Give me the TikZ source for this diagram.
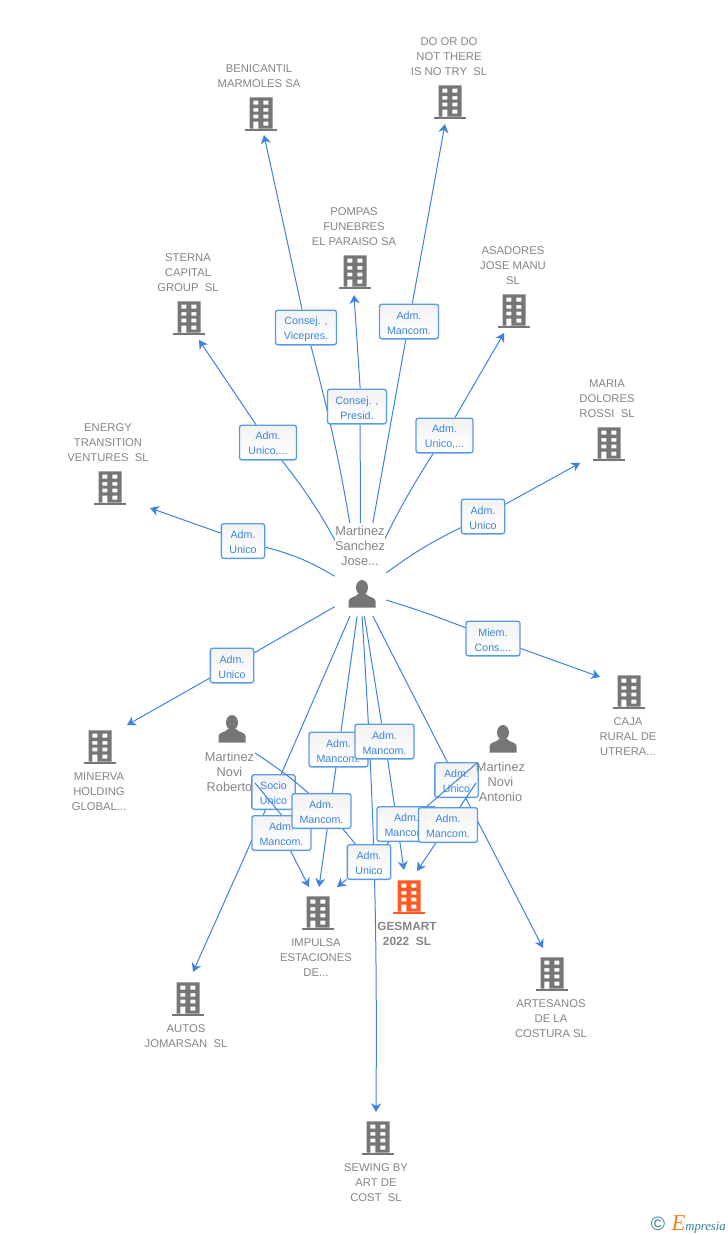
\documentclass[tikz,border=0pt]{standalone}
\usepackage{fontspec}
\setmainfont{Liberation Sans}
\newfontfamily\logofont{Liberation Serif}
\usetikzlibrary{arrows.meta}

\definecolor{iconGray}{HTML}{767676}
\definecolor{labelGray}{HTML}{858585}
\definecolor{linkBlue}{HTML}{3D82DF}
\definecolor{boxBlue}{HTML}{5A9BE6}
\definecolor{textBlue}{HTML}{3C84E0}
\definecolor{mainOrange}{HTML}{FF5A26}
\definecolor{logoTeal}{HTML}{2F7E96}
\definecolor{logoOrange}{HTML}{F58220}

\pgfdeclarelayer{baseLines}
\pgfdeclarelayer{lowBoxes}
\pgfdeclarelayer{topLines}
\pgfsetlayers{baseLines,lowBoxes,topLines,main}

\tikzset{
  link/.style={linkBlue, line width=.75pt},
  linkTip/.style={link, -{Stealth[length=6.5pt,width=7.5pt,inset=2pt]}},
  relBox/.style={draw=boxBlue, line width=1pt, rounded corners=1.8pt, top color=black!5, bottom color=white, text=textBlue,
    font=\fontsize{8}{11.25}\selectfont, align=center, inner sep=0pt, minimum height=26pt, text height=19.2pt},
  relWide/.style={relBox, minimum width=44.25pt},
  relSmall/.style={relBox, minimum width=32.5pt},
  nameLbl/.style={text=labelGray, font=\fontsize{8.45}{11.25}\selectfont, align=center, inner sep=0pt, yshift=-.75pt},
  personLbl/.style={text=labelGray, font=\fontsize{9.6}{11.25}\selectfont, align=center, inner sep=0pt, yshift=-.75pt},
  pics/building/.style={code={
    \fill[#1, even odd rule] (-11.5,-16.7) rectangle (11.5,14.5)
      (-7.7,-13.3) rectangle (-2.7,-9.3) (2.3,-13.3) rectangle (7.3,-9.3)
      (-7.7,-6) rectangle (-2.7,-2.3) (2.3,-6) rectangle (7.3,-2.3)
      (-7.7,.7) rectangle (-2.7,4.3) (2.3,.7) rectangle (7.3,4.3)
      (-7.7,7.6) rectangle (-2.7,14.5) (2.3,7.6) rectangle (7.3,11.7);
    \fill[#1] (-16,14.5) rectangle (16,16.5);
  }},
  pics/person/.style={code={
    \fill[iconGray] (0,-6.5) ellipse (6 and 7.5);
    \fill[iconGray] (-13.5,13.5) -- (-13.5,7) .. controls (-13.5,3) and (-5,3) .. (-4,0)
      -- (4,0) .. controls (5,3) and (13.5,3) .. (13.5,7) -- (13.5,13.5) -- cycle;
  }}
}

\begin{document}
\begin{tikzpicture}[x=.75pt, y=-.75pt]
\useasboundingbox (0,0) rectangle (728,1235);

% people
\node (jose) at (360.5,592) [minimum width=38.25pt, minimum height=36pt, inner sep=0pt] {};
\coordinate (robertoA) at (255,753);
\coordinate (robertoB) at (255,783);
\coordinate (antonioA) at (477,763);
\coordinate (antonioB) at (476,783);

% arrow ends
\coordinate (benicantilEnd) at (264,135);
\coordinate (dodoEnd) at (445,124);
\coordinate (pompasEnd) at (354,295);
\coordinate (asadoresEnd) at (504,333);
\coordinate (sternaEnd) at (199,340);
\coordinate (mariaEnd) at (580,463);
\coordinate (energyEnd) at (150,508);
\coordinate (cajaEnd) at (600,677);
\coordinate (minervaEnd) at (127,725);
\coordinate (autosEnd) at (193,972);
\coordinate (artesanosEnd) at (543,948);
\coordinate (sewingEnd) at (376,1112);
\coordinate (impulsaEndA) at (309,887);
\coordinate (impulsaEndB) at (319,887);
\coordinate (impulsaEndC) at (337,887);
\coordinate (gesmartEndA) at (404,870);
\coordinate (gesmartEndB) at (417,871);

% boxes under the lines of the two lower people
\begin{pgfonlayer}{lowBoxes}
\node (mancomA) at (338.5,749.5) [relWide] {Adm.\\Mancom.};
\node (mancomB) at (384.5,741.5) [relWide] {Adm.\\Mancom.};
\node (socio) at (273.5,792) [relSmall] {Socio\\Unico};
\node (unicoE) at (456.5,780) [relSmall] {Adm.\\Unico};
\end{pgfonlayer}

% other boxes
\node (vicepres) at (306,327.5) [relBox, minimum width=45.75pt] {Consej. ,\\Vicepres.};
\node (presid) at (357,406.5) [relWide] {Consej. ,\\Presid.};
\node (mancomTop) at (409,321.5) [relWide] {Adm.\\Mancom.};
\node (unicoSterna) at (268,442.5) [relBox, minimum width=42.75pt] {Adm.\\Unico,...};
\node (unicoAsadores) at (444.5,435.5) [relBox, minimum width=42.75pt] {Adm.\\Unico,...};
\node (unicoMaria) at (483,516.5) [relSmall] {Adm.\\Unico};
\node (unicoEnergy) at (243,541) [relSmall] {Adm.\\Unico};
\node (miembro) at (493,638.5) [relBox, minimum width=40.5pt] {Miem.\\Cons....};
\node (unicoMinerva) at (232,665.5) [relSmall] {Adm.\\Unico};
\node (mancomD) at (281.5,833) [relWide] {Adm.\\Mancom.};
\node (mancomC) at (321.5,811) [relWide] {Adm.\\Mancom.};
\node (mancomF) at (406.5,824) [relWide] {Adm.\\Mancom.};
\node (mancomG) at (448,825) [relWide] {Adm.\\Mancom.};
\node (unicoH) at (369,862) [relSmall] {Adm.\\Unico};

% lines from the main person
\begin{pgfonlayer}{baseLines}
\draw[link] (jose) to[bend right=3] (vicepres.285);
\draw[linkTip] (vicepres) -- (benicantilEnd);
\draw[link] (jose) -- (presid.280);
\draw[linkTip] (presid.80) -- (pompasEnd);
\draw[link] (jose) -- (mancomTop);
\draw[linkTip] (mancomTop) -- (dodoEnd);
\draw[link] (jose) to[bend left=4] (unicoAsadores);
\draw[linkTip] (unicoAsadores) -- (asadoresEnd);
\draw[link] (jose) to[bend right=6] (unicoSterna);
\draw[linkTip] (unicoSterna) -- (sternaEnd);
\draw[link] (jose) to[bend right=8] (unicoEnergy);
\draw[linkTip] (unicoEnergy) -- (energyEnd);
\draw[link] (jose) to[bend left=5] (unicoMaria);
\draw[linkTip] (unicoMaria) -- (mariaEnd);
\draw[link] (jose) to[bend left=2] (miembro);
\draw[linkTip] (miembro) -- (cajaEnd);
\draw[link] (jose) -- (unicoMinerva);
\draw[linkTip] (unicoMinerva) -- (minervaEnd);
\draw[link] (jose) -- (socio);
\draw[linkTip] (socio) -- (autosEnd);
\draw[link] (jose) -- (mancomA);
\draw[linkTip] (mancomA) -- (impulsaEndB);
\draw[link] (jose) -- (mancomB);
\draw[linkTip] (mancomB.-80) -- (gesmartEndA);
\draw[link] (jose) -- (unicoE);
\draw[linkTip] (unicoE) -- (artesanosEnd);
\draw[linkTip] (jose) to[bend left=2] (sewingEnd);
\end{pgfonlayer}

% lines from the other two people
\begin{pgfonlayer}{topLines}
\draw[link] (robertoA) to[bend left=9] (unicoH);
\draw[link] (robertoB) -- (mancomD.north);
\draw[linkTip] (mancomD) -- (impulsaEndA);
\draw[linkTip] (antonioA) -- (mancomF) -- (unicoH) -- (impulsaEndC);
\draw[linkTip] (antonioB) -- (mancomG) -- (gesmartEndB);
\end{pgfonlayer}

% person icons and names
\pic at (362,594) {person};
\pic at (232,729) {person};
\pic at (503,739) {person};
\node (joseName) at (360,545) [personLbl, fill=white, inner ysep=2.25pt] {Martinez\\Sanchez\\Jose...};
\node (robertoName) at (229.5,771) [personLbl] {Martinez\\Novi\\Roberto};
\node (antonioName) at (500.5,781) [personLbl] {Martinez\\Novi\\Antonio};

% companies
\pic at (261,114) {building=iconGray};
\pic at (450,102) {building=iconGray};
\pic at (355,272) {building=iconGray};
\pic at (514,311) {building=iconGray};
\pic at (189,318) {building=iconGray};
\pic at (609,444) {building=iconGray};
\pic at (110,488) {building=iconGray};
\pic at (629,692) {building=iconGray};
\pic at (100,747) {building=iconGray};
\pic at (409,897) {building=mainOrange};
\pic at (318,913) {building=iconGray};
\pic at (552,974) {building=iconGray};
\pic at (188,999) {building=iconGray};
\pic at (378,1138) {building=iconGray};

\node (benicantilName) at (259,75.5) [nameLbl] {BENICANTIL\\MARMOLES SA};
\node (dodoName) at (449,56) [nameLbl] {DO OR DO\\NOT THERE\\IS NO TRY~~SL};
\node (pompasName) at (354,226) [nameLbl] {POMPAS\\FUNEBRES\\EL PARAISO SA};
\node (asadoresName) at (513,265) [nameLbl] {ASADORES\\JOSE MANU\\SL};
\node (sternaName) at (188,272) [nameLbl] {STERNA\\CAPITAL\\GROUP~~SL};
\node (mariaName) at (607,398) [nameLbl] {MARIA\\DOLORES\\ROSSI~~SL};
\node (energyName) at (108,442) [nameLbl] {ENERGY\\TRANSITION\\VENTURES~~SL};
\node (cajaName) at (628,736) [nameLbl] {CAJA\\RURAL DE\\UTRERA...};
\node (minervaName) at (99,791) [nameLbl] {MINERVA\\HOLDING\\GLOBAL...};
\node (gesmartName) at (407,932.5) [nameLbl, font=\fontsize{8.9}{11.25}\bfseries\selectfont] {GESMART\\2022~~SL};
\node (impulsaName) at (316,957) [nameLbl] {IMPULSA\\ESTACIONES\\DE...};
\node (artesanosName) at (551,1018) [nameLbl] {ARTESANOS\\DE LA\\COSTURA SL};
\node (autosName) at (186,1035.5) [nameLbl] {AUTOS\\JOMARSAN~~SL};
\node (sewingName) at (376,1182) [nameLbl] {SEWING BY\\ART DE\\COST~~SL};

% logo
\node (logoMark) at (658,1224) [text=logoTeal, font=\fontsize{14.5}{14.5}\selectfont, inner sep=0pt] {©};
\node (logoName) at (726,1224) [anchor=east, text=logoTeal, font=\logofont\itshape\fontsize{9.5}{11}\selectfont, inner sep=0pt] {{\color{logoOrange}\fontsize{17}{11}\selectfont E}mpresia};

\end{tikzpicture}
\end{document}
